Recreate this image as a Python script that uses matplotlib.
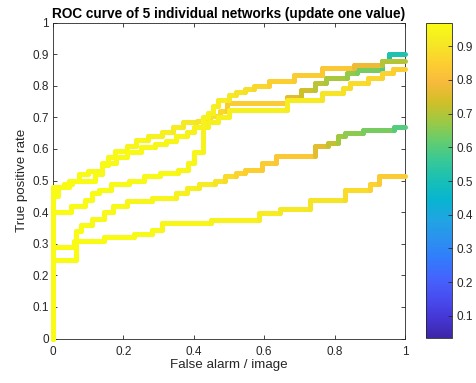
import matplotlib
matplotlib.use('Agg')
import matplotlib.pyplot as plt
import numpy as np
from matplotlib.collections import LineCollection
from matplotlib.colors import LinearSegmentedColormap, Normalize
from matplotlib.cm import ScalarMappable

plt.rcParams['font.family'] = ['Liberation Sans', 'DejaVu Sans']

# ROC curves: step start (false alarm), level (true positive rate), threshold score
fa_a = [0, 0, 0.03, 0.055, 0.075, 0.10, 0.14, 0.155, 0.175, 0.21, 0.235, 0.27, 0.31, 0.34,
        0.37, 0.41, 0.445, 0.475, 0.495, 0.665, 0.705, 0.745, 0.775, 0.835, 0.865, 0.935, 0.955, 1.0]
tp_a = [0, 0.48, 0.49, 0.50, 0.52, 0.53, 0.55, 0.575, 0.595, 0.61, 0.63, 0.64, 0.655, 0.67,
        0.685, 0.69, 0.705, 0.72, 0.745, 0.766, 0.788, 0.809, 0.825, 0.84, 0.851, 0.877, 0.90, 0.90]
sc_a = [0.97, 0.97, 0.97, 0.97, 0.97, 0.96, 0.96, 0.96, 0.96, 0.95, 0.95, 0.94, 0.93, 0.92,
        0.91, 0.90, 0.89, 0.87, 0.84, 0.76, 0.73, 0.71, 0.69, 0.67, 0.64, 0.58, 0.52, 0.50]

fa_b = [0, 0, 0.015, 0.045, 0.12, 0.14, 0.18, 0.21, 0.25, 0.29, 0.32, 0.35, 0.38, 0.40, 0.44,
        0.47, 0.50, 0.665, 0.765, 0.825, 0.845, 0.895, 0.935, 0.965, 1.0]
tp_b = [0, 0.45, 0.48, 0.50, 0.52, 0.555, 0.575, 0.59, 0.605, 0.615, 0.625, 0.64, 0.655, 0.67,
        0.685, 0.70, 0.724, 0.756, 0.777, 0.793, 0.809, 0.825, 0.84, 0.853, 0.853]
sc_b = [0.97, 0.97, 0.97, 0.97, 0.97, 0.96, 0.96, 0.96, 0.96, 0.95, 0.95, 0.95, 0.94, 0.94, 0.93,
        0.93, 0.93, 0.92, 0.90, 0.89, 0.88, 0.87, 0.86, 0.85, 0.84]

fa_c = [0, 0, 0.05, 0.09, 0.11, 0.13, 0.165, 0.215, 0.26, 0.305, 0.355, 0.385, 0.40, 0.425,
        0.44, 0.455, 0.47, 0.50, 0.52, 0.545, 0.57, 0.615, 0.685, 0.765, 0.855, 0.935, 1.0]
tp_c = [0, 0.40, 0.42, 0.44, 0.46, 0.47, 0.49, 0.50, 0.515, 0.525, 0.535, 0.555, 0.59, 0.70,
        0.715, 0.735, 0.756, 0.77, 0.78, 0.79, 0.80, 0.814, 0.835, 0.856, 0.866, 0.877, 0.877]
sc_c = [0.97, 0.97, 0.97, 0.97, 0.97, 0.97, 0.96, 0.96, 0.96, 0.96, 0.95, 0.95, 0.95, 0.94,
        0.94, 0.93, 0.92, 0.91, 0.90, 0.89, 0.87, 0.85, 0.84, 0.83, 0.78, 0.70, 0.66]

fa_d = [0, 0, 0.065, 0.08, 0.11, 0.145, 0.17, 0.21, 0.28, 0.35, 0.38, 0.415, 0.46, 0.49, 0.52,
        0.545, 0.595, 0.635, 0.745, 0.78, 0.81, 0.83, 0.88, 0.97, 1.0]
tp_d = [0, 0.25, 0.34, 0.36, 0.38, 0.40, 0.42, 0.435, 0.445, 0.46, 0.475, 0.49, 0.50, 0.515,
        0.525, 0.534, 0.555, 0.577, 0.61, 0.62, 0.64, 0.65, 0.66, 0.67, 0.67]
sc_d = [0.97, 0.97, 0.97, 0.97, 0.96, 0.96, 0.96, 0.95, 0.95, 0.94, 0.93, 0.92, 0.90, 0.88,
        0.86, 0.85, 0.84, 0.83, 0.76, 0.72, 0.68, 0.66, 0.64, 0.60, 0.58]

fa_e = [0, 0, 0.06, 0.145, 0.23, 0.28, 0.31, 0.45, 0.585, 0.645, 0.73, 0.83, 0.90, 0.925, 1.0]
tp_e = [0, 0.29, 0.31, 0.32, 0.33, 0.345, 0.365, 0.376, 0.397, 0.41, 0.44, 0.47, 0.49, 0.515, 0.515]
sc_e = [0.97, 0.97, 0.97, 0.97, 0.96, 0.96, 0.95, 0.94, 0.92, 0.91, 0.90, 0.88, 0.86, 0.84, 0.84]

curves = [(fa_a, tp_a, sc_a), (fa_b, tp_b, sc_b), (fa_c, tp_c, sc_c),
          (fa_d, tp_d, sc_d), (fa_e, tp_e, sc_e)]

x_ticks = [0, 0.2, 0.4, 0.6, 0.8, 1]
y_ticks = [0, 0.1, 0.2, 0.3, 0.4, 0.5, 0.6, 0.7, 0.8, 0.9, 1]
cbar_ticks = [0.1, 0.2, 0.3, 0.4, 0.5, 0.6, 0.7, 0.8, 0.9]
score_min, score_max = 0.035, 0.97

# MATLAB parula, sampled every 4th entry of parula(64)
parula_pts = [
    [0.2422, 0.1504, 0.6603], [0.2706, 0.2147, 0.8364], [0.2813, 0.3006, 0.9414],
    [0.2699, 0.3892, 0.9906], [0.1963, 0.4847, 0.9892], [0.1687, 0.5703, 0.9359],
    [0.1248, 0.6459, 0.8883], [0.0297, 0.7082, 0.8163], [0.0964, 0.7500, 0.7120],
    [0.2161, 0.7843, 0.5923], [0.3909, 0.8029, 0.4354], [0.6174, 0.7876, 0.2612],
    [0.8203, 0.7498, 0.1535], [0.9728, 0.7298, 0.2394], [0.9892, 0.8136, 0.1885],
    [0.9597, 0.9135, 0.1423], [0.9769, 0.9839, 0.0805]]
parula = LinearSegmentedColormap.from_list('parula', parula_pts)
norm = Normalize(score_min, score_max)

fig = plt.figure(figsize=(4.77, 3.83), dpi=100)
ax = fig.add_axes([0.111, 0.116, 0.738, 0.825])

for fa, tp, sc in curves:
    segs, cols = [], []
    for i in range(len(fa) - 1):
        # horizontal part of step, then rise to the next level
        segs.append([(fa[i], tp[i]), (fa[i + 1], tp[i])])
        cols.append(sc[i])
        if tp[i + 1] != tp[i]:
            segs.append([(fa[i + 1], tp[i]), (fa[i + 1], tp[i + 1])])
            cols.append(sc[i + 1])
    lc = LineCollection(segs, cmap=parula, norm=norm, linewidths=3.6,
                        capstyle='round', joinstyle='round', zorder=3)
    lc.set_array(np.array(cols))
    lc.set_clip_on(False)
    ax.add_collection(lc)

ax.set_xlim(0, 1)
ax.set_ylim(0, 1)
ax.set_xticks(x_ticks)
ax.set_xticklabels(['0', '0.2', '0.4', '0.6', '0.8', '1'])
ax.set_yticks(y_ticks)
ax.set_yticklabels(['0', '0.1', '0.2', '0.3', '0.4', '0.5', '0.6', '0.7', '0.8', '0.9', '1'])
ax.tick_params(direction='in', top=True, right=True, length=3, width=0.6,
               labelsize=8.5, colors='#262626', pad=3)
ax.tick_params(axis='x', pad=5)
for s in ax.spines.values():
    s.set_color('#262626')
    s.set_linewidth(0.6)
ax.set_xlabel('False alarm / image', fontsize=9.6, color='#262626', labelpad=1)
ax.set_ylabel('True positive rate', fontsize=9.6, color='#262626', labelpad=3)
ax.set_title('ROC curve of 5 individual networks (update one value)',
             fontsize=9.8, fontweight='bold', pad=3)

cax = fig.add_axes([0.894, 0.118, 0.053, 0.823])
sm = ScalarMappable(norm=norm, cmap=parula)
cb = fig.colorbar(sm, cax=cax, ticks=cbar_ticks)
cb.ax.tick_params(direction='in', length=3, width=0.6, labelsize=8.5, colors='#262626')
cb.ax.set_yticklabels(['0.1', '0.2', '0.3', '0.4', '0.5', '0.6', '0.7', '0.8', '0.9'])
cb.outline.set_edgecolor('#262626')
cb.outline.set_linewidth(0.6)

fig.savefig('out.png', dpi=100)
